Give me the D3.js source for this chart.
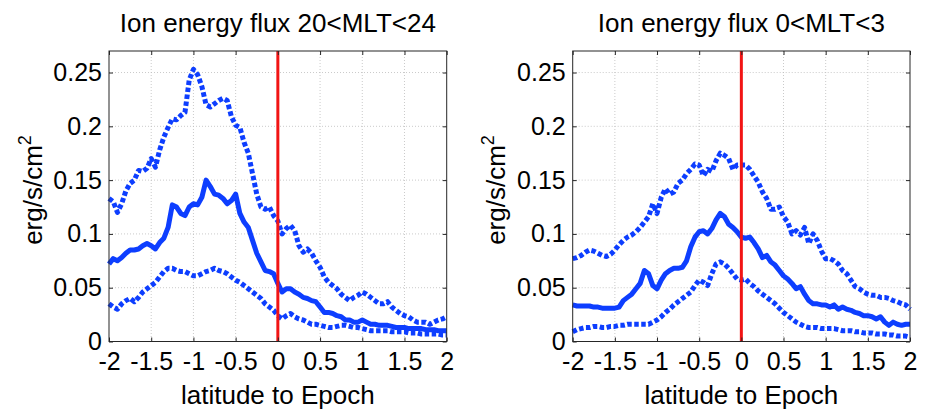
<!DOCTYPE html>
<html>
<head>
<meta charset="utf-8">
<script src="https://cdn.jsdelivr.net/npm/d3@7"></script>
<style>
  html, body { margin: 0; padding: 0; background: #fff; }
  svg { display: block; }
  text { font-family: "Liberation Sans", Arial, Helvetica, sans-serif; fill: #000; }
</style>
</head>
<body>
<svg id="chart" width="925" height="412"></svg>
<script>
// ---- data ----
const latitude = [-2,-1.95,-1.9,-1.85,-1.8,-1.75,-1.7,-1.65,-1.6,-1.55,-1.5,-1.45,-1.4,-1.35,-1.3,-1.25,-1.2,-1.15,-1.1,-1.05,
  -1,-0.95,-0.9,-0.85,-0.8,-0.75,-0.7,-0.65,-0.6,-0.55,-0.5,-0.45,-0.4,-0.35,-0.3,-0.25,-0.2,-0.15,-0.1,-0.05,
  0,0.05,0.1,0.15,0.2,0.25,0.3,0.35,0.4,0.45,0.5,0.55,0.6,0.65,0.7,0.75,0.8,0.85,0.9,0.95,
  1,1.05,1.1,1.15,1.2,1.25,1.3,1.35,1.4,1.45,1.5,1.55,1.6,1.65,1.7,1.75,1.8,1.85,1.9,1.95,2];

const titles = ["Ion energy flux 20<MLT<24", "Ion energy flux 0<MLT<3"];
const xTicks = [-2,-1.5,-1,-0.5,0,0.5,1,1.5,2];
const yTicks = [0,0.05,0.1,0.15,0.2,0.25];
const xLabel = "latitude to Epoch";
const yLabel = "erg/s/cm";
const epoch = 0;

// 20<MLT<24
const leftUpper = [0.133,0.130,0.120,0.128,0.140,0.147,0.150,0.159,0.158,0.161,
  0.170,0.162,0.178,0.190,0.199,0.207,0.206,0.210,0.213,0.243,
  0.253,0.248,0.237,0.220,0.218,0.221,0.224,0.226,0.224,0.209,
  0.201,0.199,0.185,0.175,0.156,0.137,0.125,0.123,0.125,0.117,
  0.112,0.100,0.105,0.108,0.103,0.089,0.083,0.086,0.082,0.075,
  0.069,0.060,0.055,0.052,0.049,0.044,0.041,0.038,0.041,0.043,
  0.046,0.044,0.041,0.038,0.035,0.035,0.037,0.032,0.029,0.026,
  0.024,0.023,0.020,0.018,0.018,0.018,0.016,0.018,0.020,0.021,0.023];
const leftMedian = [0.072,0.077,0.075,0.078,0.082,0.085,0.085,0.086,0.089,0.091,
  0.089,0.086,0.092,0.096,0.106,0.127,0.125,0.119,0.117,0.125,
  0.128,0.127,0.134,0.150,0.144,0.137,0.136,0.133,0.128,0.131,
  0.137,0.119,0.111,0.106,0.094,0.082,0.074,0.066,0.065,0.063,
  0.054,0.046,0.049,0.049,0.046,0.044,0.041,0.040,0.038,0.037,
  0.032,0.027,0.027,0.026,0.024,0.023,0.020,0.020,0.018,0.018,
  0.020,0.018,0.016,0.016,0.015,0.015,0.015,0.014,0.013,0.013,
  0.013,0.012,0.012,0.012,0.012,0.011,0.011,0.011,0.010,0.010,0.010];
const leftLower = [0.035,0.032,0.030,0.035,0.038,0.040,0.037,0.041,0.046,0.049,
  0.052,0.055,0.060,0.065,0.068,0.068,0.066,0.065,0.065,0.063,
  0.061,0.061,0.063,0.065,0.066,0.068,0.066,0.065,0.063,0.060,
  0.057,0.055,0.052,0.049,0.046,0.043,0.040,0.035,0.032,0.029,
  0.024,0.021,0.024,0.026,0.023,0.021,0.020,0.018,0.016,0.016,
  0.015,0.014,0.013,0.013,0.014,0.015,0.015,0.014,0.013,0.013,
  0.012,0.011,0.010,0.010,0.010,0.010,0.010,0.009,0.009,0.009,
  0.009,0.008,0.008,0.008,0.007,0.007,0.007,0.007,0.007,0.006,0.006];

// 0<MLT<3
const rightUpper = [0.077,0.078,0.080,0.083,0.085,0.084,0.082,0.080,0.079,0.081,
  0.085,0.090,0.094,0.097,0.099,0.102,0.106,0.111,0.116,0.128,
  0.119,0.134,0.142,0.137,0.139,0.147,0.150,0.156,0.160,0.165,
  0.164,0.154,0.160,0.158,0.168,0.175,0.173,0.170,0.160,0.164,
  0.164,0.164,0.160,0.154,0.148,0.139,0.133,0.123,0.123,0.125,
  0.116,0.111,0.100,0.103,0.099,0.106,0.091,0.100,0.094,0.084,
  0.077,0.077,0.075,0.072,0.066,0.063,0.057,0.051,0.049,0.046,
  0.044,0.043,0.043,0.041,0.041,0.040,0.038,0.037,0.035,0.034,0.030];
const rightMedian = [0.034,0.033,0.033,0.033,0.033,0.032,0.032,0.031,0.031,0.031,
  0.031,0.032,0.038,0.041,0.044,0.049,0.054,0.066,0.063,0.052,
  0.049,0.057,0.063,0.066,0.068,0.068,0.069,0.075,0.088,0.097,
  0.102,0.103,0.100,0.105,0.113,0.119,0.116,0.109,0.106,0.102,
  0.097,0.096,0.097,0.092,0.086,0.078,0.080,0.074,0.071,0.066,
  0.061,0.058,0.054,0.049,0.051,0.044,0.038,0.035,0.035,0.034,
  0.034,0.032,0.034,0.030,0.032,0.030,0.029,0.027,0.026,0.024,
  0.024,0.023,0.021,0.023,0.018,0.015,0.018,0.016,0.015,0.016,0.016];
const rightLower = [0.009,0.011,0.012,0.013,0.013,0.014,0.014,0.013,0.013,0.014,
  0.014,0.015,0.015,0.016,0.016,0.016,0.016,0.016,0.016,0.018,
  0.020,0.023,0.027,0.030,0.034,0.037,0.040,0.043,0.046,0.052,
  0.057,0.055,0.052,0.063,0.072,0.074,0.072,0.068,0.063,0.058,
  0.057,0.058,0.054,0.051,0.047,0.044,0.041,0.038,0.035,0.031,
  0.027,0.024,0.021,0.018,0.016,0.014,0.013,0.013,0.013,0.012,
  0.012,0.012,0.012,0.011,0.010,0.010,0.010,0.009,0.009,0.008,
  0.008,0.008,0.007,0.007,0.007,0.006,0.006,0.005,0.005,0.005,0.004];

// ---- drawing ----
const svg = d3.select("#chart");
const plotTop = 51, plotBottom = 341.5;
const panels = [
  { title: titles[0], x0: 109, x1: 446.7, upper: leftUpper, median: leftMedian, lower: leftLower, ylabX: 42 },
  { title: titles[1], x0: 572.7, x1: 910, upper: rightUpper, median: rightMedian, lower: rightLower, ylabX: 505 }
];
const blue = "#0d3eff", red = "#f21414", axisColor = "#262626";

panels.forEach(p => {
  const x = d3.scaleLinear().domain([-2, 2]).range([p.x0, p.x1]);
  const y = d3.scaleLinear().domain([0, 0.27]).range([plotBottom, plotTop]);
  const g = svg.append("g");

  // grid
  g.append("g").selectAll("line").data(xTicks.slice(1, -1)).join("line")
    .attr("x1", d => x(d)).attr("x2", d => x(d)).attr("y1", plotTop).attr("y2", plotBottom)
    .attr("stroke", "#bdbdbd").attr("stroke-width", 0.8).attr("stroke-dasharray", "1,2");
  g.append("g").selectAll("line").data(yTicks.slice(1)).join("line")
    .attr("x1", p.x0).attr("x2", p.x1).attr("y1", d => y(d)).attr("y2", d => y(d))
    .attr("stroke", "#bdbdbd").attr("stroke-width", 0.8).attr("stroke-dasharray", "1,2");

  // series
  const line = d3.line().x((d, i) => x(latitude[i])).y(d => y(d));
  [["upper", "4.5,2.5", 5], ["lower", "4.5,2.5", 5], ["median", null, 5]].forEach(([k, dash, w]) => {
    g.append("path").datum(p[k]).attr("d", line)
      .attr("fill", "none").attr("stroke", blue).attr("stroke-width", w)
      .attr("stroke-linejoin", "round")
      .attr("stroke-dasharray", dash);
  });

  // epoch line
  g.append("line").attr("x1", x(epoch)).attr("x2", x(epoch)).attr("y1", plotTop).attr("y2", plotBottom)
    .attr("stroke", red).attr("stroke-width", 3);

  // axes
  const fmt = d => String(d);
  const ax = g.append("g").attr("transform", `translate(0,${plotBottom})`)
    .call(d3.axisBottom(x).tickValues(xTicks).tickFormat(fmt).tickSizeInner(-4).tickSizeOuter(0).tickPadding(11));
  const ay = g.append("g").attr("transform", `translate(${p.x0},0)`)
    .call(d3.axisLeft(y).tickValues(yTicks).tickFormat(fmt).tickSizeInner(-4).tickSizeOuter(0).tickPadding(7));
  const at = g.append("g").attr("transform", `translate(0,${plotTop})`)
    .call(d3.axisTop(x).tickValues(xTicks).tickFormat("").tickSizeInner(-4).tickSizeOuter(0));
  const ar = g.append("g").attr("transform", `translate(${p.x1},0)`)
    .call(d3.axisRight(y).tickValues(yTicks).tickFormat("").tickSizeInner(-4).tickSizeOuter(0));
  [ax, ay, at, ar].forEach(a => {
    a.select(".domain").remove();
    a.selectAll(".tick line").attr("stroke", axisColor);
    a.selectAll("text").attr("font-size", 25).attr("font-family", null).attr("fill", "#000");
  });

  // box
  g.append("rect").attr("x", p.x0).attr("y", plotTop).attr("width", p.x1 - p.x0).attr("height", plotBottom - plotTop)
    .attr("fill", "none").attr("stroke", axisColor).attr("stroke-width", 1);

  // title & labels
  g.append("text").attr("x", (p.x0 + p.x1) / 2).attr("y", 32).attr("text-anchor", "middle")
    .attr("font-size", 26).text(p.title);
  g.append("text").attr("x", (p.x0 + p.x1) / 2).attr("y", 404).attr("text-anchor", "middle")
    .attr("font-size", 26).text(xLabel);
  const yl = g.append("text").attr("transform", `translate(${p.ylabX},190) rotate(-90)`)
    .attr("text-anchor", "middle").attr("font-size", 26);
  yl.append("tspan").text(yLabel);
  yl.append("tspan").attr("dy", -11).attr("font-size", 18).text("2");
});
</script>
</body>
</html>
